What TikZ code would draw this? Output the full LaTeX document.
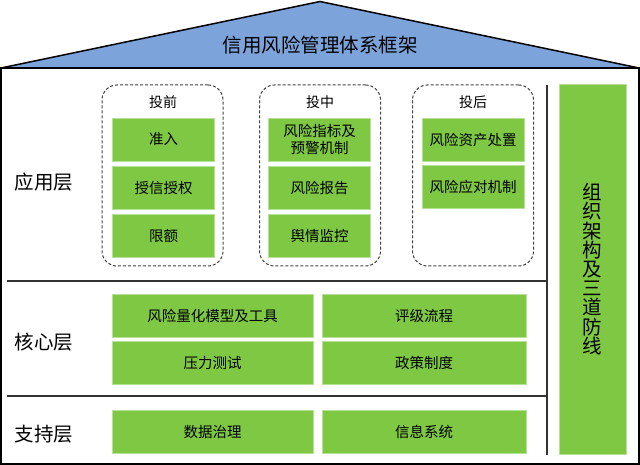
\documentclass[tikz,border=0pt]{standalone}
\usepackage{fontspec}
\usetikzlibrary{positioning}
\newfontfamily\cjk{Noto Sans CJK SC}
\definecolor{roofblue}{RGB}{124,164,218}
\definecolor{leaf}{RGB}{126,200,68}
\tikzset{
  cell/.style={
    inner sep = 0pt,
    shape = rectangle,
    draw = leaf!55!white,
    fill = leaf,
    align = center,
    font = \cjk\fontsize{14.5}{17}\selectfont
  },
}
\tikzset{
  group/.style={
    inner sep = 0pt,
    shape = rectangle,
    draw = black!75,
    line width = 1pt,
    dash pattern = on 3pt off 2pt,
    rounded corners = 15pt,
    minimum width = 121pt,
    minimum height = 181pt
  },
}
\tikzset{
  phase/.style={
    inner sep = 1pt,
    font = \cjk\fontsize{14}{16}\selectfont
  },
   layer/.style={
    inner sep = 1pt,
    font = \cjk\fontsize{19.5}{21}\selectfont
  },
   divider/.style={
    line width = 1.5pt,
    black!80
  }
}

\begin{document}
\begin{tikzpicture}[x=1pt, y=-1pt]
        \useasboundingbox (0,0) rectangle (640,465);

        % roof and frame
        \draw[line width=1.5pt, fill=roofblue] (1,68) -- (320,1.5) -- (639,68) -- cycle;
        \node[layer] (title) at (320,45) {信用风险管理体系框架};
        \draw[line width=2pt] (1,68) rectangle (639,464);

        \draw[divider] (7,281) -- (547,281);
        \draw[divider] (7,396) -- (547,396);
        \draw[divider] (547,85) -- (547,455);

        \node[layer] (app) at (44,182) {应用层};
        \node[layer] (core) at (44,342) {核心层};
        \node[layer] (base) at (44,434) {支持层};

        % application layer
        \node[group] (pre) at (162.5,175.5) {};
        \node[group] (mid) at (320,175.5) {};
        \node[group] (post) at (473,175.5) {};

        \node[phase] (preT) at (163,102) {投前};
        \node[phase] (midT) at (320,102) {投中};
        \node[phase] (postT) at (473,102) {投后};

        \def\w{102pt};
        \def\h{43pt};

        \node[cell, minimum width=\w, minimum height=\h] (zr) at (163.5,139.5) {准入};
        \node[cell, minimum width=\w, minimum height=\h] (sx) at (163.5,188) {授信授权};
        \node[cell, minimum width=\w, minimum height=\h] (xe) at (163.5,236) {限额};

        \node[cell, minimum width=\w, minimum height=\h] (yj) at (319.5,139.5) {风险指标及\\预警机制};
        \node[cell, minimum width=\w, minimum height=\h] (bg) at (319.5,188) {风险报告};
        \node[cell, minimum width=\w, minimum height=\h] (yq) at (319.5,236) {舆情监控};

        \node[cell, minimum width=\w, minimum height=\h] (cz) at (473,139.5) {风险资产处置};
        \node[cell, minimum width=\w, minimum height=\h] (yd) at (473,187) {风险应对机制};

        % core and support layers
        \node[cell, minimum width=201pt, minimum height=\h] (lh) at (212.5,315.5) {风险量化模型及工具};
        \node[cell, minimum width=204pt, minimum height=\h] (pj) at (424,315.5) {评级流程};
        \node[cell, minimum width=201pt, minimum height=\h] (yl) at (212.5,363) {压力测试};
        \node[cell, minimum width=204pt, minimum height=\h] (zc) at (424,363) {政策制度};

        \node[cell, minimum width=201pt, minimum height=\h] (sj) at (212.5,432) {数据治理};
        \node[cell, minimum width=204pt, minimum height=\h] (xt) at (424,432) {信息系统};

        % side bar
        \node[cell, minimum width=67pt, minimum height=370pt,
              font=\cjk\fontsize{19.5}{19.2}\selectfont] (zz) at (592.5,269)
              {组\\织\\架\\构\\及\\三\\道\\防\\线};
\end{tikzpicture}
\end{document}
